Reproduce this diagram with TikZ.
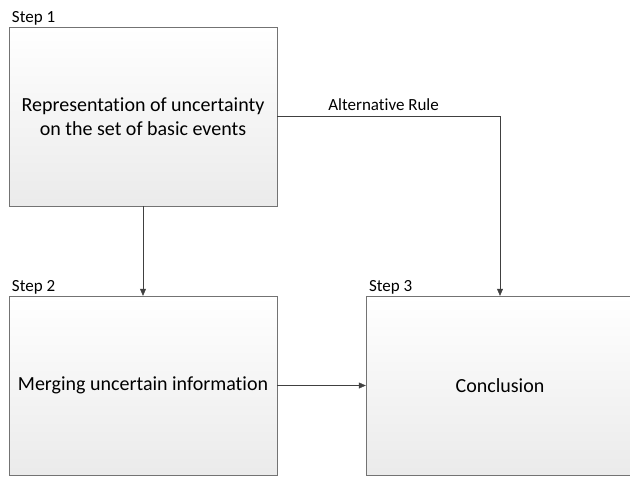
\documentclass[tikz,border=0pt]{standalone}
\usepackage{fontspec}
\setmainfont{Carlito}[Ligatures=NoCommon]
\usetikzlibrary{arrows.meta}

\begin{document}
\begin{tikzpicture}[x=1pt, y=-1pt]
  \tikzstyle{stepbox} = [rectangle, draw=black!55, top color=white, bottom color=black!8,
  minimum width=268pt, minimum height=179pt, inner sep=0pt, align=center,
  font=\fontsize{20}{24}\selectfont]
  \tikzstyle{steplabel} = [anchor=south west, inner sep=1pt, xshift=2pt, yshift=0.5pt,
  font=\fontsize{17}{20}\selectfont]
  \tikzstyle{flow} = [draw=black!75, -{Triangle[length=7pt, width=6pt]}]

  \useasboundingbox (0,0) rectangle (630,477);
  \clip (0,0) rectangle (630,477);

  % Define nodes
  \node[stepbox, label={[steplabel]north west:Step 1}] (rep) at (143,116.5)
    {Representation of uncertainty\\on the set of basic events};
  \node[stepbox, label={[steplabel]north west:Step 2}] (merge) at (143,385.5)
    {Merging uncertain information};
  \node[stepbox, label={[steplabel]north west:Step 3}] (concl) at (500,385.5)
    {Conclusion};

  \path [flow] (rep) -- (merge);
  \path [flow] (merge) -- (concl);
  \path [flow] (rep.east) -| node [pos=0.25, above, inner sep=6pt, xshift=-5pt,
    font=\fontsize{17}{20}\selectfont] {Alternative Rule} (concl.north);
\end{tikzpicture}
\end{document}
